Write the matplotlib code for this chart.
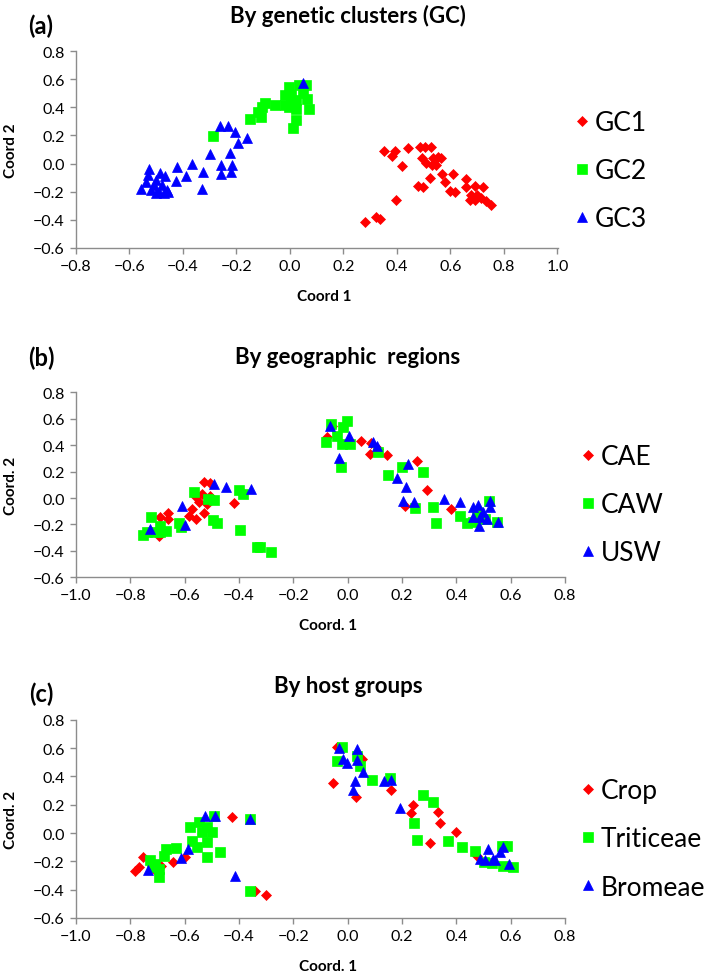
import numpy as np
import matplotlib
matplotlib.use("Agg")
import matplotlib.pyplot as plt
from matplotlib.ticker import FuncFormatter

plt.rcParams['font.family'] = ['Lato', 'DejaVu Sans']

# (a) genetic clusters
gc1 = [(0.281, -0.414), (0.32, -0.38), (0.336, -0.392), (0.396, -0.258), (0.35, 0.089),
       (0.382, 0.056), (0.392, 0.089), (0.442, 0.11), (0.418, -0.02), (0.485, 0.115),
       (0.506, 0.12), (0.526, 0.12), (0.494, 0.037), (0.51, 0.002), (0.535, 0.037),
       (0.554, 0.049), (0.566, 0.037), (0.529, -0.01), (0.547, -0.01), (0.523, -0.104),
       (0.568, -0.076), (0.58, -0.133), (0.479, -0.159), (0.498, -0.163), (0.61, -0.076),
       (0.597, -0.192), (0.616, -0.199), (0.659, -0.111), (0.659, -0.168), (0.69, -0.159),
       (0.72, -0.17), (0.672, -0.258), (0.69, -0.258), (0.715, -0.246), (0.733, -0.263),
       (0.75, -0.293), (0.678, -0.222), (0.7, -0.222)]
gc2 = [(-0.286, 0.195), (-0.151, 0.32), (-0.12, 0.363), (-0.104, 0.403), (-0.095, 0.427),
       (-0.108, 0.332), (-0.056, 0.415), (-0.017, 0.415), (-0.002, 0.545), (0.004, 0.486),
       (-0.017, 0.49), (0.022, 0.45), (0.035, 0.557), (0.06, 0.557), (0.063, 0.462),
       (0.072, 0.387), (0.022, 0.387), (0.022, 0.309), (0.012, 0.25), (-0.005, 0.403),
       (0.004, 0.45), (0.047, 0.5)]
gc3 = [(0.05, 0.57), (-0.262, 0.269), (-0.233, 0.269), (-0.205, 0.221), (-0.16, 0.179),
       (-0.193, 0.146), (-0.3, 0.066), (-0.223, 0.077), (-0.257, -0.012), (-0.216, -0.01),
       (-0.259, -0.071), (-0.221, -0.06), (-0.366, -0.003), (-0.422, -0.022), (-0.389, -0.088),
       (-0.425, -0.121), (-0.325, -0.062), (-0.329, -0.18), (-0.527, -0.038), (-0.53, -0.08),
       (-0.486, -0.069), (-0.467, -0.09), (-0.558, -0.18), (-0.51, -0.15), (-0.49, -0.2),
       (-0.46, -0.19), (-0.52, -0.19), (-0.48, -0.15), (-0.54, -0.13), (-0.5, -0.12),
       (-0.455, -0.2), (-0.5, -0.21), (-0.47, -0.21)]

# (b) geographic regions
cae = [(-0.53, 0.119), (-0.508, 0.114), (-0.536, 0.031), (-0.548, -0.027), (-0.518, -0.045),
       (-0.506, 0.013), (-0.573, -0.083), (-0.585, -0.138), (-0.558, -0.158), (-0.53, -0.116),
       (-0.42, -0.04), (-0.663, -0.116), (-0.66, -0.158), (-0.692, -0.146), (-0.696, -0.285),
       (-0.56, 0.005), (-0.077, 0.46), (0.048, 0.429), (0.085, 0.417), (0.083, 0.333),
       (0.144, 0.328), (0.113, 0.371), (0.254, 0.28), (0.291, 0.061), (0.211, -0.058),
       (0.379, -0.083), (-0.059, 0.548)]
caw = [(-0.567, 0.043), (-0.515, -0.007), (-0.491, -0.012), (-0.401, 0.064), (-0.387, 0.031),
       (-0.497, -0.163), (-0.481, -0.191), (-0.398, -0.242), (-0.334, -0.373), (-0.321, -0.373),
       (-0.282, -0.411), (-0.723, -0.146), (-0.753, -0.277), (-0.739, -0.259), (-0.692, -0.209),
       (-0.69, -0.254), (-0.669, -0.247), (-0.622, -0.189), (-0.612, -0.221), (-0.708, -0.259),
       (-0.08, 0.427), (-0.063, 0.56), (-0.004, 0.586), (-0.016, 0.535), (-0.04, 0.472),
       (-0.022, 0.409), (0.009, 0.409), (-0.026, 0.233), (0.113, 0.346), (0.147, 0.175),
       (0.199, 0.233), (0.279, 0.195), (0.248, -0.078), (0.315, -0.07), (0.325, -0.189),
       (0.413, -0.133), (0.44, -0.189), (0.521, -0.02), (0.548, -0.184), (0.475, -0.108),
       (0.506, -0.158), (0.463, -0.184)]
usw = [(-0.493, 0.106), (-0.447, 0.086), (-0.356, 0.069), (-0.61, -0.058), (-0.598, -0.201),
       (-0.726, -0.234), (-0.065, 0.548), (0.006, 0.467), (-0.031, 0.303), (0.094, 0.422),
       (0.107, 0.396), (0.223, 0.258), (0.183, 0.149), (0.215, 0.081), (0.205, -0.02),
       (0.245, -0.032), (0.355, -0.007), (0.413, -0.032), (0.463, -0.07), (0.479, -0.052),
       (0.524, -0.02), (0.524, -0.07), (0.463, -0.146), (0.487, -0.146), (0.512, -0.158),
       (0.485, -0.209), (0.552, -0.179), (0.499, -0.108)]

# (c) host groups
crop = [(-0.782, -0.271), (-0.769, -0.242), (-0.753, -0.172), (-0.687, -0.235), (-0.644, -0.207),
        (-0.598, -0.167), (-0.426, 0.111), (-0.34, -0.407), (-0.3, -0.438), (-0.714, -0.254),
        (-0.055, 0.351), (0.031, 0.256), (0.052, 0.522), (-0.04, 0.605), (0.16, 0.306),
        (0.242, 0.198), (0.233, 0.139), (0.334, 0.146), (0.34, 0.068), (0.398, 0.009),
        (0.303, -0.071), (0.591, -0.231), (0.475, -0.16)]
triticeae = [(-0.493, 0.118), (-0.358, 0.101), (-0.358, -0.407), (-0.579, 0.04), (-0.548, 0.075),
             (-0.518, 0.04), (-0.5, 0.005), (-0.536, 0.005), (-0.573, -0.054), (-0.555, -0.096),
             (-0.518, -0.066), (-0.471, -0.132), (-0.518, -0.172), (-0.631, -0.108), (-0.669, -0.113),
             (-0.677, -0.16), (-0.726, -0.188), (-0.708, -0.219), (-0.696, -0.254), (-0.696, -0.313),
             (-0.72, -0.242), (-0.022, 0.605), (-0.038, 0.511), (0.033, 0.546), (0.045, 0.475),
             (0.088, 0.376), (0.156, 0.386), (0.279, 0.268), (0.313, 0.216), (0.244, 0.068),
             (0.254, -0.047), (0.368, -0.056), (0.42, -0.101), (0.469, -0.125), (0.567, -0.089),
             (0.585, -0.089), (0.573, -0.231), (0.607, -0.242), (0.5, -0.207), (0.53, -0.212)]
bromeae = [(-0.524, 0.118), (-0.487, 0.118), (-0.358, 0.101), (-0.589, -0.113), (-0.613, -0.176),
           (-0.736, -0.259), (-0.416, -0.301), (-0.031, 0.598), (0.036, 0.593), (-0.016, 0.522),
           (-0.001, 0.494), (0.033, 0.518), (0.058, 0.428), (0.027, 0.369), (0.018, 0.304),
           (0.134, 0.369), (0.16, 0.376), (0.193, 0.174), (0.487, -0.184), (0.515, -0.113),
           (0.534, -0.184), (0.561, -0.136), (0.573, -0.101), (0.595, -0.219), (0.542, -0.193),
           (0.505, -0.193)]

W, H = 709, 979
fig = plt.figure(figsize=(W / 100, H / 100), dpi=100)

def fmt(v, pos):
    v = round(v, 1) + 0.0
    return f"{v:.1f}".replace("-", "\u2212")

def panel(rect, series, names, xlim, title, tag, title_y, tag_y, xlab, ylab, leg_x, leg_y):
    l, r, t, b = rect
    ax = fig.add_axes([l / W, 1 - b / H, (r - l) / W, (b - t) / H])
    styles = [("D", "#ff0000", 4.8), ("s", "#00ff00", 7.0), ("^", "#0000ff", 7.5)]
    for pts, name, (m, c, ms) in zip(series, names, styles):
        arr = np.array(pts)
        ax.plot(arr[:, 0], arr[:, 1], ls="none", marker=m, color=c, ms=ms,
                mec=c, mew=0.5, label=name, clip_on=False)
    ax.set_xlim(*xlim)
    ax.set_ylim(-0.6, 0.8)
    ax.set_xticks(np.arange(xlim[0], xlim[1] + 0.01, 0.2))
    ax.set_yticks(np.arange(-0.6, 0.81, 0.2))
    ax.xaxis.set_major_formatter(FuncFormatter(fmt))
    ax.yaxis.set_major_formatter(FuncFormatter(fmt))
    for s in ("top", "right"):
        ax.spines[s].set_visible(False)
    for s in ("left", "bottom"):
        ax.spines[s].set_color("#8c8c8c")
        ax.spines[s].set_linewidth(1.0)
    ax.tick_params(direction="out", length=4, width=1.0, color="#8c8c8c",
                   labelsize=11.5, pad=4)
    ax.set_xlabel(xlab, fontsize=11, fontweight="bold", va="center")
    ax.set_ylabel(ylab, fontsize=11, fontweight="bold", va="center")
    ax.xaxis.set_label_coords(0.515, -48 / (b - t))
    ax.yaxis.set_label_coords((11 - l) / (r - l), 0.5)
    fig.text(348 / W, 1 - title_y / H, title, ha="center", va="center",
             fontsize=16, fontweight="bold")
    fig.text(41 / W, 1 - tag_y / H, tag, ha="center", va="center",
             fontsize=17, fontweight="bold")
    ax.legend(loc="center left", bbox_to_anchor=(leg_x / W, 1 - leg_y / H),
              bbox_transform=fig.transFigure, frameon=False, fontsize=19,
              handlelength=0.5, handletextpad=0.25, labelspacing=0.88,
              borderpad=0, borderaxespad=0)
    return ax

panel((76, 557.5, 52, 249), [gc1, gc2, gc3], ["GC1", "GC2", "GC3"], (-0.8, 1.0),
      "By genetic clusters (GC)", "(a)", 16, 26, "Coord 1", "Coord 2", 575, 171.5)
panel((76, 565, 393.3, 578.3), [cae, caw, usw], ["CAE", "CAW", "USW"], (-1.0, 0.8),
      "By geographic  regions", "(b)", 357, 358, "Coord. 1", "Coord. 2", 581, 505.5)
panel((76, 565, 720.7, 919), [crop, triticeae, bromeae], ["Crop", "Triticeae", "Bromeae"],
      (-1.0, 0.8), "By host groups", "(c)", 687, 694, "Coord. 1", "Coord. 2", 581, 840)

fig.savefig("out.png", dpi=100)
